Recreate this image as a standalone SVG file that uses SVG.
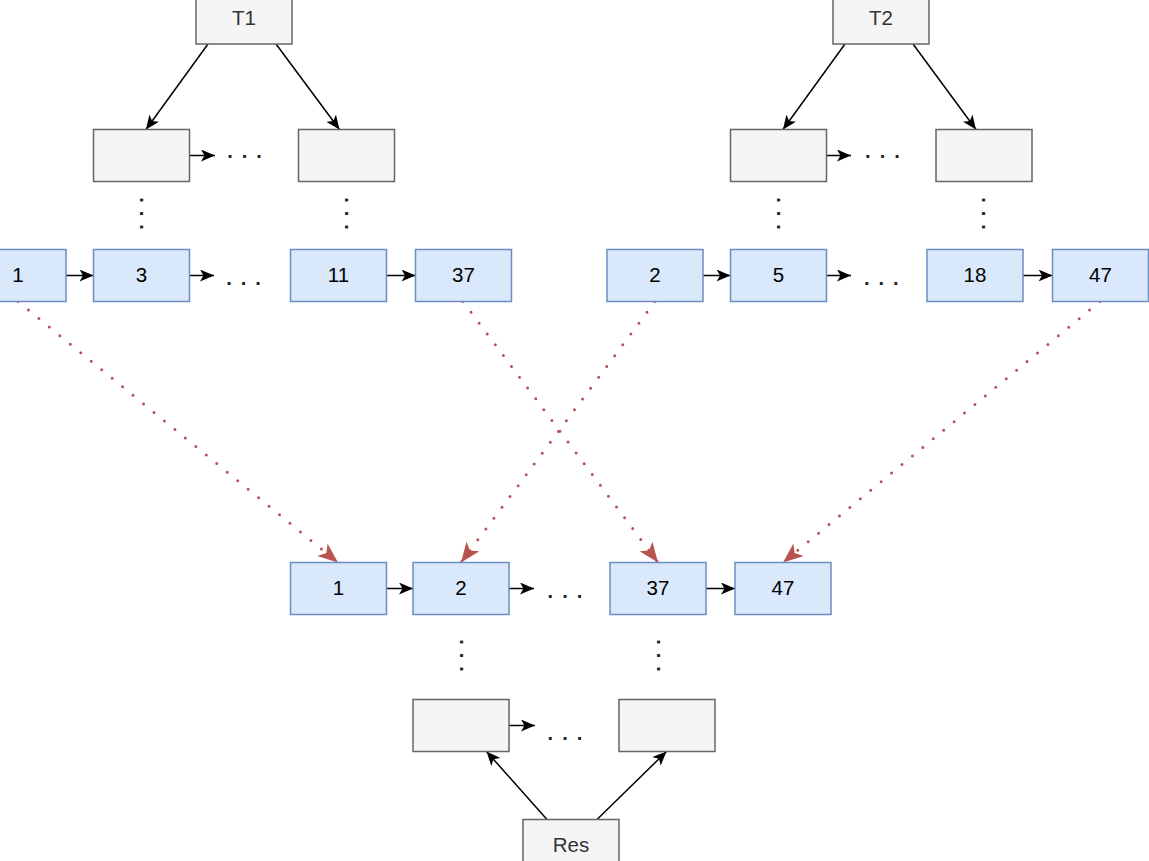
<svg xmlns="http://www.w3.org/2000/svg" width="1149" height="861" viewBox="0 0 1149 861">
<style>
.gray{fill:#f5f5f5;stroke:#666666;stroke-width:1.5}
.blue{fill:#dae8fc;stroke:#6c8ebf;stroke-width:1.5}
.lbl{font-family:"Liberation Sans",Arial,sans-serif;font-size:20.5px;text-anchor:middle}
.gt{fill:#333333}
.bt{fill:#000000}
.dots{font-family:"Liberation Sans",Arial,sans-serif;font-size:20px;font-weight:bold;fill:#222;letter-spacing:9px}
.vdots{font-family:"Liberation Sans",Arial,sans-serif;font-size:20px;font-weight:bold;fill:#222;letter-spacing:8px}
.arr{stroke:#000;stroke-width:1.5;fill:none;marker-end:url(#ab)}
.red{stroke:#b85450;stroke-width:3;fill:none;stroke-dasharray:0 13.5;stroke-linecap:round;marker-end:url(#ar)}
</style>
<defs>
<marker id="ab" markerUnits="userSpaceOnUse" viewBox="0 0 14 12" markerWidth="14" markerHeight="12" refX="14" refY="6" orient="auto">
<path d="M0,0 L14,6 L0,12 L3.5,6 Z" fill="#000" stroke="none"/>
</marker>
<marker id="ar" markerUnits="userSpaceOnUse" viewBox="0 0 20 16" markerWidth="20" markerHeight="16" refX="20" refY="8" orient="auto">
<path d="M0,0 L20,8 L0,16 L5,8 Z" fill="#b85450" stroke="none"/>
</marker>
</defs>
<rect width="1149" height="861" fill="#ffffff"/>
<g id="connectors">
<line class="arr" x1="208" y1="44" x2="146" y2="129.5"/>
<line class="arr" x1="276" y1="44" x2="339.5" y2="129.5"/>
<line class="arr" x1="845" y1="44" x2="783" y2="129.5"/>
<line class="arr" x1="913" y1="44" x2="976" y2="129.5"/>
<line class="arr" x1="547" y1="819.5" x2="486.5" y2="751.5"/>
<line class="arr" x1="597" y1="819.5" x2="666.5" y2="751.5"/>
<line class="arr" x1="189.5" y1="155.5" x2="215" y2="155.5"/>
<line class="arr" x1="826.5" y1="155.5" x2="851" y2="155.5"/>
<line class="arr" x1="66" y1="275.5" x2="93.5" y2="275.5"/>
<line class="arr" x1="189.5" y1="275.5" x2="214" y2="275.5"/>
<line class="arr" x1="386.5" y1="275.5" x2="415.5" y2="275.5"/>
<line class="arr" x1="703" y1="275.5" x2="730.5" y2="275.5"/>
<line class="arr" x1="826.5" y1="275.5" x2="851" y2="275.5"/>
<line class="arr" x1="1023" y1="275.5" x2="1052.5" y2="275.5"/>
<line class="arr" x1="386.5" y1="588.5" x2="413" y2="588.5"/>
<line class="arr" x1="509" y1="588.5" x2="534" y2="588.5"/>
<line class="arr" x1="706" y1="588.5" x2="735" y2="588.5"/>
<line class="arr" x1="509" y1="725.5" x2="535" y2="725.5"/>
<line class="red" x1="18" y1="301.5" x2="338" y2="562.5"/>
<line class="red" x1="655" y1="301.5" x2="461" y2="562.5"/>
<line class="red" x1="463" y1="301.5" x2="658" y2="562.5"/>
<line class="red" x1="1100" y1="301.5" x2="783" y2="562.5"/>
</g>
<g id="T1"><rect class="gray" x="196" y="-8" width="96" height="52"/><text class="lbl gt" x="244" y="24.5">T1</text></g>
<g id="T2"><rect class="gray" x="833" y="-8" width="96" height="52"/><text class="lbl gt" x="881" y="24.5">T2</text></g>
<g id="A1"><rect class="gray" x="93.5" y="129.5" width="96" height="52"/></g>
<g id="A2"><rect class="gray" x="298.5" y="129.5" width="96" height="52"/></g>
<g id="B1"><rect class="gray" x="730.5" y="129.5" width="96" height="52"/></g>
<g id="B2"><rect class="gray" x="936" y="129.5" width="96" height="52"/></g>
<g id="L1"><rect class="blue" x="-30" y="249.5" width="96" height="52"/><text class="lbl bt" x="18" y="281.8">1</text></g>
<g id="L3"><rect class="blue" x="93.5" y="249.5" width="96" height="52"/><text class="lbl bt" x="141.5" y="281.8">3</text></g>
<g id="L11"><rect class="blue" x="290.5" y="249.5" width="96" height="52"/><text class="lbl bt" x="338.5" y="281.8">11</text></g>
<g id="L37"><rect class="blue" x="415.5" y="249.5" width="96" height="52"/><text class="lbl bt" x="463.5" y="281.8">37</text></g>
<g id="R2"><rect class="blue" x="607" y="249.5" width="96" height="52"/><text class="lbl bt" x="655" y="281.8">2</text></g>
<g id="R5"><rect class="blue" x="730.5" y="249.5" width="96" height="52"/><text class="lbl bt" x="778.5" y="281.8">5</text></g>
<g id="R18"><rect class="blue" x="927" y="249.5" width="96" height="52"/><text class="lbl bt" x="975" y="281.8">18</text></g>
<g id="R47"><rect class="blue" x="1052.5" y="249.5" width="96" height="52"/><text class="lbl bt" x="1100.5" y="281.8">47</text></g>
<g id="M1"><rect class="blue" x="290.5" y="562.5" width="96" height="52"/><text class="lbl bt" x="338.5" y="594.8">1</text></g>
<g id="M2"><rect class="blue" x="413" y="562.5" width="96" height="52"/><text class="lbl bt" x="461" y="594.8">2</text></g>
<g id="M37"><rect class="blue" x="610" y="562.5" width="96" height="52"/><text class="lbl bt" x="658" y="594.8">37</text></g>
<g id="M47"><rect class="blue" x="735" y="562.5" width="96" height="52"/><text class="lbl bt" x="783" y="594.8">47</text></g>
<g id="C1"><rect class="gray" x="413" y="699.5" width="96" height="52"/></g>
<g id="C2"><rect class="gray" x="619" y="699.5" width="96" height="52"/></g>
<g id="Res"><rect class="gray" x="523" y="819.5" width="96" height="52"/><text class="lbl gt" x="571" y="851.8">Res</text></g>
<g id="ellipses">
<text class="dots" x="227.2" y="157.8">...</text>
<text class="dots" x="865.1" y="157.8">...</text>
<text class="dots" x="226.2" y="284.8">...</text>
<text class="dots" x="864" y="284.8">...</text>
<text class="dots" x="547.6" y="597.8">...</text>
<text class="dots" x="547.6" y="740.4">...</text>
<text class="vdots" x="139.6" y="197.2" transform="rotate(90 139.6 197.2)">...</text>
<text class="vdots" x="344.9" y="197.2" transform="rotate(90 344.9 197.2)">...</text>
<text class="vdots" x="776.8" y="197.2" transform="rotate(90 776.8 197.2)">...</text>
<text class="vdots" x="982.3" y="197.2" transform="rotate(90 982.3 197.2)">...</text>
<text class="vdots" x="459.9" y="639.2" transform="rotate(90 459.9 639.2)">...</text>
<text class="vdots" x="656.9" y="639.2" transform="rotate(90 656.9 639.2)">...</text>
</g>
</svg>
